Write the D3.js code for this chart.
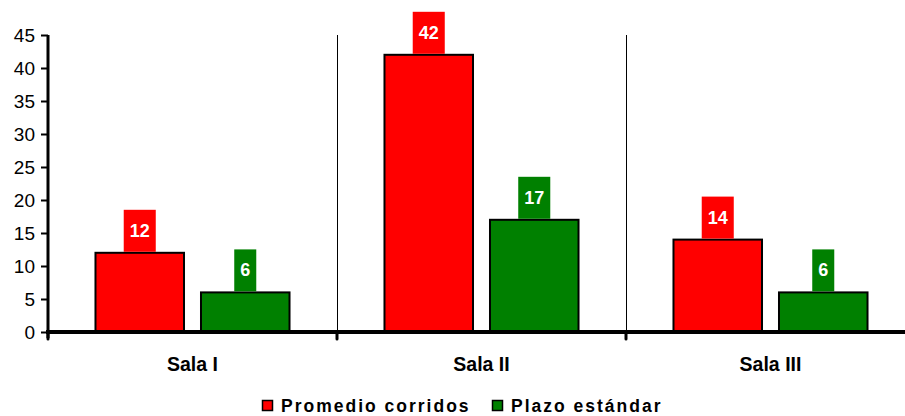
<!DOCTYPE html>
<html><head><meta charset="utf-8">
<script src="https://cdn.jsdelivr.net/npm/d3@7"></script>
<style>body{margin:0;background:#fff}svg{display:block;font-family:"Liberation Sans",Arial,sans-serif}</style>
</head><body><svg id="c" width="905" height="416"></svg>
<script>
const categories = ["Sala I", "Sala II", "Sala III"];
const seriesNames = ["Promedio corridos", "Plazo estándar"];
const promedio = [12, 42, 14];
const plazo = [6, 17, 6];
const yTicks = [0, 5, 10, 15, 20, 25, 30, 35, 40, 45];
const colors = ["#ff0000", "#008000"];

const svg = d3.select("#c");
const x0 = 48, x1 = 915, yTop = 35, yBot = 332;
const x = d3.scaleBand().domain(categories).range([x0, x1]).padding(0);
const xs = d3.scaleBand().domain(seriesNames).range([0, x.bandwidth()]).paddingInner(0.161).paddingOuter(0.45);
const y = d3.scaleLinear().domain([0, 45]).range([yBot, yTop]);
const data = categories.map((c, i) => ({cat: c, vals: [promedio[i], plazo[i]]}));

// separators
svg.selectAll("line.sep").data(categories.slice(1)).enter().append("line")
  .attr("x1", d => x(d) + 0.5).attr("x2", d => x(d) + 0.5)
  .attr("y1", yTop).attr("y2", yBot).attr("stroke", "#000").attr("stroke-width", 1);

// bars
const g = svg.selectAll("g.cat").data(data).enter().append("g").attr("transform", d => `translate(${x(d.cat)},0)`);
g.selectAll("rect").data(d => d.vals.map((v, j) => ({v, s: seriesNames[j], j}))).enter().append("rect")
  .attr("x", d => xs(d.s)).attr("width", xs.bandwidth())
  .attr("y", d => y(d.v)).attr("height", d => yBot - y(d.v))
  .attr("fill", d => colors[d.j]).attr("stroke", "#000").attr("stroke-width", 2);

// labels
g.each(function(d) {
  const gg = d3.select(this);
  d.vals.forEach((v, j) => {
    const cx = xs(seriesNames[j]) + xs.bandwidth() / 2;
    const lg = gg.append("g");
    const r = lg.append("rect").attr("fill", colors[j]);
    const t = lg.append("text").attr("x", cx).attr("y", y(v) - 16).attr("text-anchor", "middle")
      .attr("fill", "#fff").attr("font-weight", "bold").attr("font-size", 18).text(v);
    const w = t.node().getComputedTextLength() + 12;
    r.attr("x", cx - w / 2).attr("width", w).attr("y", y(v) - 43).attr("height", 42);
  });
});

// y axis
const ya = svg.append("g").attr("transform", `translate(${x0},0)`)
  .call(d3.axisLeft(y).tickValues(yTicks).tickSize(7).tickPadding(6));
ya.select(".domain").attr("stroke-width", 3).attr("d", `M0,${yTop}V${yBot + 6}`);
ya.selectAll(".tick line").attr("stroke-width", 2);
ya.selectAll("text").attr("font-size", 19).attr("font-family", "Liberation Sans, Arial").attr("fill", "#000");

// x axis
const xa = svg.append("g").attr("transform", `translate(0,${yBot})`);
xa.append("line").attr("x1", x0 - 2).attr("x2", x1).attr("y1", 0).attr("y2", 0).attr("stroke", "#000").attr("stroke-width", 4);
xa.selectAll("line.tk").data(categories).enter().append("line")
  .attr("x1", d => x(d)).attr("x2", d => x(d)).attr("y1", 0).attr("y2", 7)
  .attr("stroke", "#000").attr("stroke-width", 3).attr("stroke-linecap", "round");
xa.selectAll("text").data(categories).enter().append("text")
  .attr("x", d => x(d) + x.bandwidth() / 2).attr("y", 39).attr("text-anchor", "middle")
  .attr("font-weight", "bold").attr("font-size", 19.5).text(d => d);

// legend
const leg = svg.append("g").attr("transform", "translate(262,400)");
const items = [{n: seriesNames[0], c: colors[0], x: 0}, {n: seriesNames[1], c: colors[1], x: 230}];
items.forEach(it => {
  leg.append("rect").attr("x", it.x + 0.5).attr("y", 0.5).attr("width", 10).attr("height", 10)
    .attr("fill", it.c).attr("stroke", "#000").attr("stroke-width", 1.5);
  leg.append("text").attr("x", it.x + 19).attr("y", 12).attr("font-weight", "bold")
    .attr("font-size", 17.5).attr("letter-spacing", 2).text(it.n);
});
</script></body></html>
